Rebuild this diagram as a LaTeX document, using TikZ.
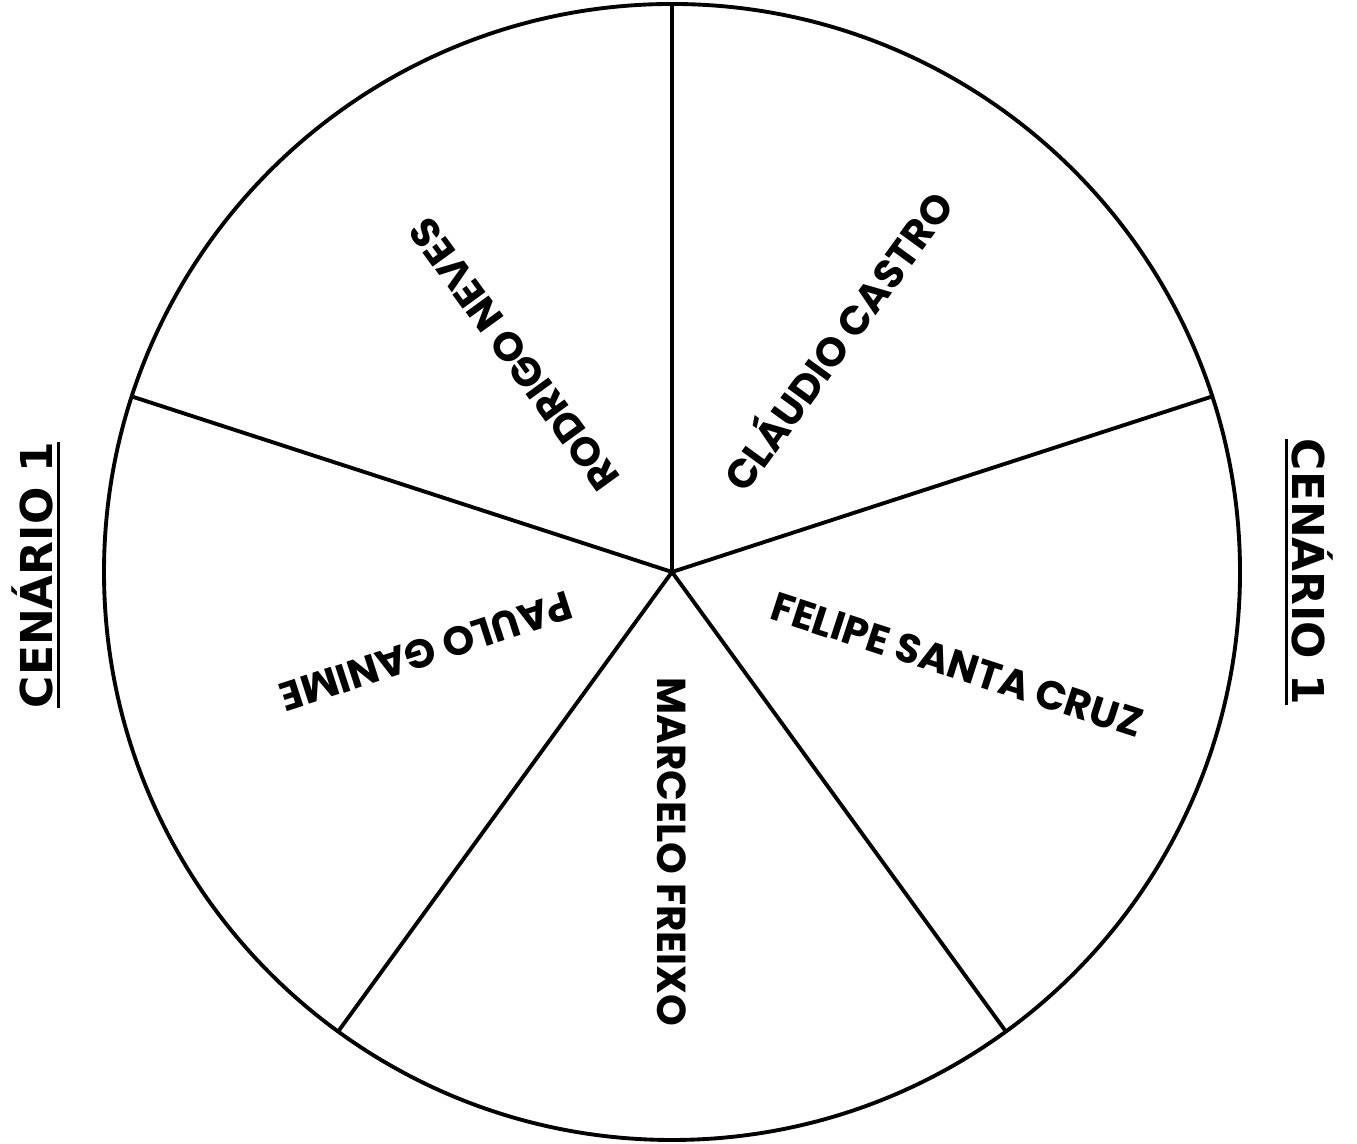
\documentclass[tikz,border=0pt]{standalone}
\usepackage{fontspec}
\usepackage{tikz}
\usetikzlibrary{calc}
\newfontfamily\namefont{Poppins}
\newfontfamily\cenfont{DejaVu Sans}
\newcommand{\ulbox}[1]{\setbox0\hbox{#1}\rlap{\rule[-0.07cm]{\wd0}{0.03cm}}\box0}

\begin{document}
\begin{tikzpicture}[x=1cm, y=1cm,
  wheel/.style={line width=1.1pt},
  slicelabel/.style={font=\namefont\bfseries\fontsize{11.5}{12}\selectfont, anchor=west,
    inner sep=0pt, text height=0.29cm, text depth=0pt},
  sidetitle/.style={font=\cenfont\bfseries\fontsize{12.5}{14}\selectfont,
    inner sep=0pt, text height=0.32cm, text depth=0pt}]

  \useasboundingbox (0,0) rectangle (13.57,11.44);

  %% wheel
  \coordinate (c) at (6.72,5.72);
  \draw[wheel] (c) circle (5.68);
  \foreach \a in {90,18,-54,-126,162}{
    \draw[wheel] (c) -- ++(\a:5.68);
  }

  %% names, reading outwards from the hub
  \foreach \a/\n/\lab in {54/castro/{CLÁUDIO CASTRO}, -18/santacruz/{FELIPE SANTA CRUZ},
      -90/freixo/{MARCELO FREIXO}, 198/ganime/{PAULO GANIME}, 126/neves/{RODRIGO NEVES}}{
    \node[slicelabel, rotate=\a] (\n) at ($(c)+(\a:1.05)$) {\lab};
  }

  %% side titles
  \node[sidetitle, rotate=90] (cenleft) at (0.37,5.69) {\ulbox{CENÁRIO 1}};
  \node[sidetitle, rotate=-90] (cenright) at (13.08,5.72) {\ulbox{CENÁRIO 1}};

\end{tikzpicture}
\end{document}
